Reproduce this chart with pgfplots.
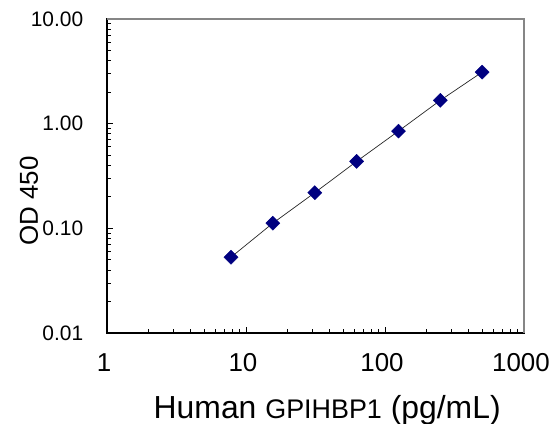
\documentclass[border=0pt]{standalone}
\usepackage{fontspec}
\setmainfont{Liberation Sans}
\usepackage{pgfplots}
\pgfplotsset{compat=1.18}
\definecolor{navy}{HTML}{000080}
\definecolor{frame}{HTML}{868686}
\begin{document}
\begin{tikzpicture}
\useasboundingbox (-107bp,-91bp) rectangle (447bp,333bp);
\begin{axis}[
  scale only axis,
  width=417bp, height=314bp,
  xmode=log, ymode=log,
  xmin=1, xmax=1000, ymin=0.01, ymax=10,
  xtick={1,10,100,1000}, xticklabels={1,10,100,1000},
  ytick={0.01,0.1,1,10}, yticklabels={0.01,0.10,1.00,10.00},
  xtick pos=bottom, ytick pos=left,
  tick align=inside,
  major tick length=6bp, minor tick length=4bp,
  tick style={black, line width=0.8pt},
  axis line style={black, line width=1.1pt},
  xticklabel style={font=\fontsize{26}{31}\selectfont, inner sep=0pt, anchor=north, yshift=-20.5bp, xshift=-3bp},
  yticklabel style={font=\fontsize{21}{25}\selectfont, inner sep=0pt, anchor=east, xshift=-23.6bp},
  xlabel={\fontsize{32}{38}\selectfont Human {\fontsize{27}{32}\selectfont GPIHBP1} (pg/mL)},
  xlabel style={at={(axis description cs:0.528,-0.2707)}, anchor=base, inner sep=0pt},
  ylabel={\fontsize{26}{31}\selectfont OD 450},
  ylabel style={at={(axis description cs:-0.1655,0.4204)}, anchor=base, inner sep=0pt},
  clip=false,
]
\draw[frame, line width=1.4pt] (rel axis cs:0,1) -- (rel axis cs:1,1) -- (rel axis cs:1,0);
\addplot[black!85, line width=0.7pt, mark=square*, mark size=5pt,
  mark options={rotate=45, fill=navy, draw=navy, line width=0.4pt}] coordinates {
  (7.8,0.053)
  (15.6,0.112)
  (31.25,0.219)
  (62.5,0.436)
  (125,0.849)
  (250,1.67)
  (500,3.11)
};
\end{axis}
\end{tikzpicture}
\end{document}
